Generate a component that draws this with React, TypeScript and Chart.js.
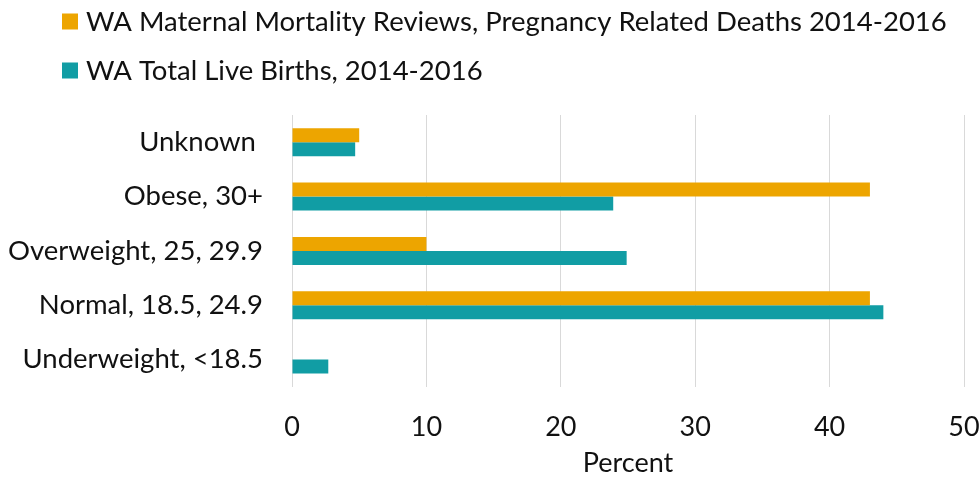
import React, { useEffect, useRef } from "react";
import { Chart, registerables } from "chart.js";

Chart.register(...registerables);

const categories = [
  "Unknown ",
  "Obese, 30+",
  "Overweight, 25, 29.9",
  "Normal, 18.5, 24.9",
  "Underweight, <18.5",
];
const deathsLabel = "WA Maternal Mortality Reviews, Pregnancy Related Deaths 2014-2016";
const birthsLabel = "WA Total Live Births, 2014-2016";
const deathsValues = [5, 43, 10, 43, 0];
const birthsValues = [4.7, 23.9, 24.9, 44, 2.7];
const xTicks = [0, 10, 20, 30, 40, 50];
const xTitle = "Percent";

const ORANGE = "#EDA500";
const TEAL = "#119DA4";
const FONT = "Lato";
const TEXT = "#111111";

const legendPlugin = {
  id: "customLegend",
  afterDraw(chart: any) {
    const ctx = chart.ctx;
    ctx.save();
    ctx.font = `27.5px ${FONT}`;
    ctx.textBaseline = "middle";
    ctx.textAlign = "left";
    chart.data.datasets.forEach((ds: any, i: number) => {
      const cy = 21.5 + i * 49;
      ctx.fillStyle = ds.backgroundColor;
      ctx.fillRect(62, cy - 8, 16, 16);
      ctx.fillStyle = TEXT;
      ctx.fillText(ds.label, 86, cy + 1);
    });
    ctx.restore();
  },
};

export default function App() {
  const ref = useRef<HTMLCanvasElement | null>(null);
  useEffect(() => {
    document.body.style.margin = "0";
    if (!ref.current) return;
    const chart = new Chart(ref.current, {
      type: "bar",
      data: {
        labels: categories,
        datasets: [
          { label: deathsLabel, data: deathsValues, backgroundColor: ORANGE },
          { label: birthsLabel, data: birthsValues, backgroundColor: TEAL },
        ],
      },
      options: {
        indexAxis: "y",
        animation: false,
        responsive: false,
        maintainAspectRatio: false,
        layout: { padding: { top: 115, left: 0, right: 16, bottom: 0 } },
        datasets: { bar: { categoryPercentage: 0.515, barPercentage: 1 } },
        plugins: { legend: { display: false }, tooltip: { enabled: false } },
        scales: {
          x: {
            min: 0,
            max: 50,
            afterBuildTicks: (scale: any) => {
              scale.ticks = xTicks.map((v) => ({ value: v }));
            },
            grid: {
              color: "#D9D9D9",
              drawTicks: true,
              tickLength: 24,
              tickColor: "rgba(0,0,0,0)",
              lineWidth: 1,
            },
            border: { display: false },
            ticks: { font: { family: FONT, size: 27 }, color: TEXT, padding: 0 },
            title: {
              display: true,
              text: xTitle,
              font: { family: FONT, size: 27 },
              color: TEXT,
              padding: { top: 3.4, bottom: 0 },
            },
          },
          y: {
            grid: { display: false, drawTicks: false },
            border: { display: false },
            ticks: { font: { family: FONT, size: 27.5 }, color: TEXT, padding: 29 },
            afterFit: (scale: any) => {
              scale.width = 292;
            },
          },
        },
      },
      plugins: [legendPlugin],
    });
    return () => chart.destroy();
  }, []);
  return (
    <div style={{ width: 980, height: 479 }}>
      <canvas ref={ref} width={980} height={479} style={{ display: "block" }} />
    </div>
  );
}
